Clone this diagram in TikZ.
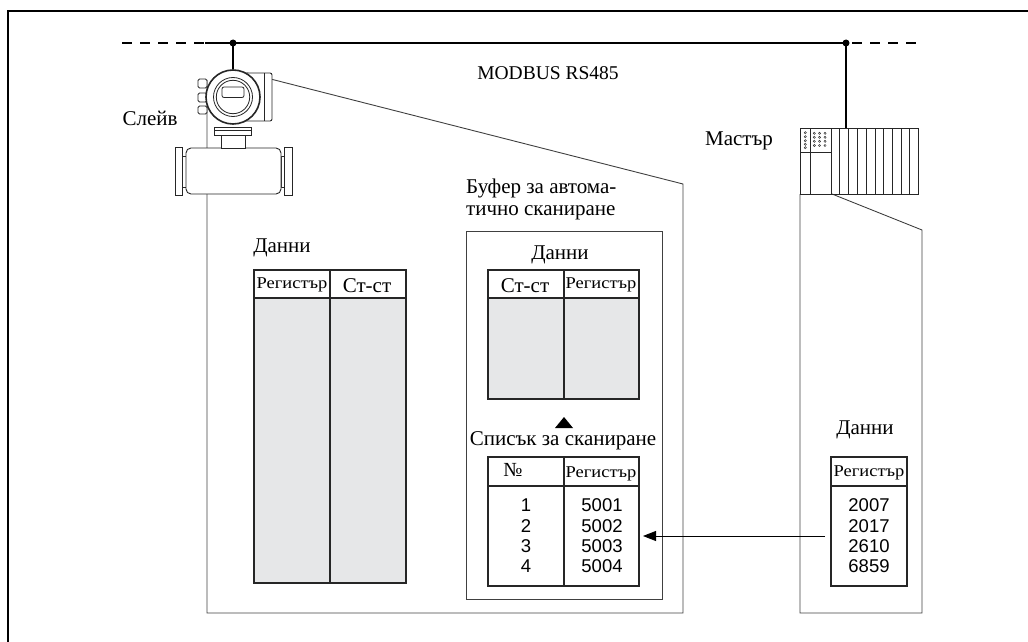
\documentclass[tikz,border=0pt]{standalone}
\usepackage{fontspec}
\setmainfont{Liberation Serif}
\newfontfamily\numfont{Liberation Sans}
\newfontfamily\hdrfont[FakeStretch=1.12]{Liberation Serif}
\usetikzlibrary{arrows.meta}
\definecolor{cellgrey}{HTML}{E6E7E8}
\begin{document}
\begin{tikzpicture}[x=1pt,y=-1pt,
  bus/.style={line width=1.8pt},
  drop/.style={line width=1.4pt},
  zone/.style={draw=black!75, line width=0.9pt},
  dev/.style={draw=black!85, line width=0.9pt, fill=white},
  grid/.style={draw=black!85, line width=1.1pt},
  cell/.style={draw=black!85, line width=1.1pt, inner sep=0pt, outer sep=0pt, anchor=north west},
  lbl/.style={font=\fontsize{21}{22}\selectfont, inner sep=0pt},
  title/.style={font=\fontsize{19.5}{22}\selectfont, inner sep=0pt},
  hdr/.style={font=\hdrfont\fontsize{16.5}{18}\selectfont, inner sep=0pt},
  nums/.style={font=\numfont\fontsize{18.5}{20.3}\selectfont, align=center, inner sep=0pt},
  flow/.style={line width=0.9pt, -{Triangle[length=13pt,width=10pt]}},
]
\useasboundingbox (0,0) rectangle (1028,642);

% page frame (top and left edges)
\draw[line width=2.2pt] (8,642) -- (8,11) -- (1028,11);

% fieldbus
\coordinate (tapS) at (233,43);
\coordinate (tapM) at (846,43);
\draw[bus, dash pattern=on 10pt off 8pt] (122,43) -- (205,43);
\draw[bus] (205,43) -- (846,43);
\draw[bus, dash pattern=on 10pt off 8pt] (852,43) -- (918,43);
\node[title] (busname) at (548,73) {MODBUS RS485};

% memory areas of slave and master
\draw[zone] (247,73) -- (683,184) -- (683,613) -- (207,613) -- (207,80);
\draw[zone] (832,194) -- (922,230) -- (922,613) -- (800,613) -- (800,194);

% ---- slave: flowmeter ----
% sensor tube with flanges
\draw[dev] (175,147) rectangle (182,195);
\draw[dev] (182,156) rectangle (186,187);
\draw[dev] (284,147) rectangle (292,195);
\draw[dev] (281,156) rectangle (284,187);
\draw[dev, rounded corners=5pt] (186,148) rectangle (281,194);
% neck
\draw[dev] (221,133) rectangle (245,148);
\draw[dev] (214,127) rectangle (251,135);
\draw[black!85, line width=0.6pt] (214,130) -- (251,130);
% terminal compartment
\draw[dev, rounded corners=2pt] (233,73) rectangle (272,121);
\draw[black!85, line width=0.8pt] (264,73) -- (264,121);
% cable glands
\draw[dev, rounded corners=1.5pt] (198,79) rectangle (207,88);
\draw[dev, rounded corners=1.5pt] (198,93) rectangle (207,102);
\draw[dev, rounded corners=1.5pt] (198,106) rectangle (207,114);
% electronics head
\node[circle, dev, line width=1.6pt, minimum size=54pt, inner sep=0pt] (head) at (233,97) {};
\draw[black!85, line width=0.8pt] (233,97) circle (19.5);
\draw[black!85, line width=0.8pt] (233,97) circle (16.7);
\draw[black!85, line width=0.8pt, rounded corners=2pt] (222,87) rectangle (244,97.5);
\draw[drop] (tapS) -- (head.north);
\node[lbl, anchor=center] (slave) at (150,118) {Слейв};

% ---- master: PLC rack ----
\node[cell, draw=black!85, line width=0.9pt, minimum width=118pt, minimum height=66pt] (rack) at (800,128) {};
\foreach \x in {810,831,839,848,857,866,875,883,892,901,909}
  \draw[black!85, line width=0.8pt] (\x,128) -- (\x,194);
\draw[black!85, line width=0.8pt] (800,152) -- (831,152);
\foreach \y in {132.7,136.7,140.7,144.3,147.7}
  \draw[black!80, line width=0.5pt] (805.3,\y) circle (1.1);
\foreach \x in {814.3,819.5,825}
  \foreach \y in {133.3,137.3,141.3,145.5}
    \draw[black!80, line width=0.5pt] (\x,\y) circle (1.1);
\draw[drop] (tapM) -- (tapM |- rack.north);
\fill (tapS) circle (3.5);
\fill (tapM) circle (3.5);
\node[lbl] (master) at (739,141) {Мастър};

% ---- slave data table ----
\node[lbl] (sdata) at (282,248) {Данни};
\fill[cellgrey] (254,298) rectangle (406,583);
\node[cell, minimum width=152pt, minimum height=313pt] (dtab) at (254,270) {};
\draw[grid] (254,298) -- (406,298);
\draw[grid] (330,270) -- (330,583);
\node[hdr] at (292,285) {Регистър};
\node[lbl] at (367,286) {Ст-ст};

% ---- auto-scan buffer ----
\node[lbl, anchor=north west, align=left] (buflbl) at (466,179) {Буфер за автома-\\тично сканиране};
\node[cell, draw=black!75, line width=0.9pt, minimum width=196pt, minimum height=368pt] (buffer) at (466,231) {};
\node[lbl] (bdata) at (560,255) {Данни};
\fill[cellgrey] (488,298) rectangle (639,399);
\node[cell, minimum width=151pt, minimum height=129pt] (btab) at (488,270) {};
\draw[grid] (488,298) -- (639,298);
\draw[grid] (564,270) -- (564,399);
\node[lbl] at (525,286) {Ст-ст};
\node[hdr] at (601,285) {Регистър};

\fill (555,428) -- (573,428) -- (564,417) -- cycle;
\node[lbl] (scanlbl) at (563,441) {Списък за сканиране};

\node[cell, minimum width=151pt, minimum height=129pt] (stab) at (488,457) {};
\draw[grid] (488,486) -- (639,486);
\draw[grid] (564,457) -- (564,586);
\node[font=\fontsize{20}{21}\selectfont, inner sep=0pt] at (513,470) {№};
\node[hdr] at (601,474) {Регистър};
\node[nums] at (526,536) {1\\2\\3\\4};
\node[nums] at (602,536) {5001\\5002\\5003\\5004};

% ---- master data table ----
\node[lbl] (mdata) at (865,430) {Данни};
\node[cell, minimum width=76pt, minimum height=129pt] (mtab) at (831,457) {};
\draw[grid] (831,486) -- (907,486);
\node[hdr] at (869,473) {Регистър};
\node[nums] at (869,536) {2007\\2017\\2610\\6859};

% scan list is filled from the master's register list
\draw[flow, shorten <=6pt, shorten >=4pt] ([yshift=-14.5pt]mtab.west) -- ([yshift=-14.5pt]stab.east);
\end{tikzpicture}
\end{document}
